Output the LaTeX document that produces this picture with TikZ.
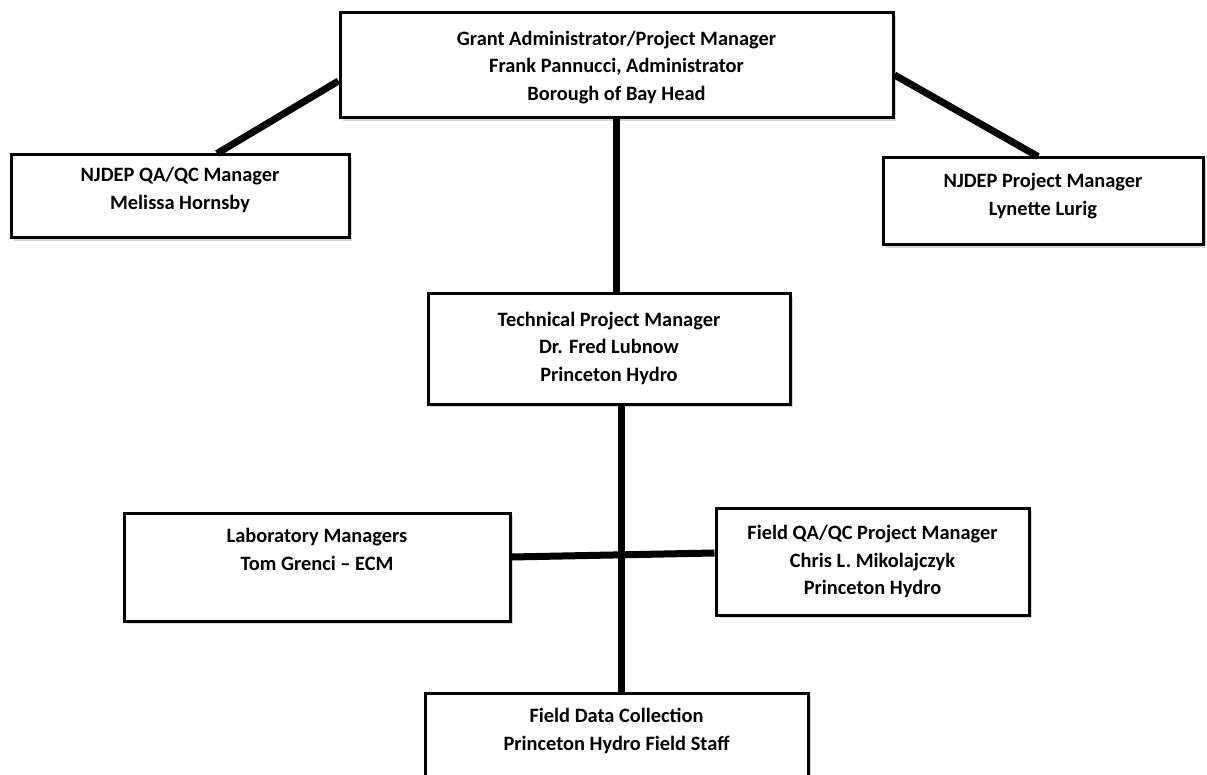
\documentclass[tikz,border=0pt]{standalone}
\usepackage{fontspec}
\setmainfont{Carlito}
\usetikzlibrary{shadows}
\begin{document}
\begin{tikzpicture}[x=1pt, y=-1pt, font=\fontsize{20.4}{27.5}\selectfont\bfseries,
    orgbox/.style={draw, line width=3pt, fill=white, align=center, inner sep=4pt,
      drop shadow={shadow xshift=3pt, shadow yshift=-3pt, fill=black!40, opacity=0.4}},
    lift/.style={text depth=#1},
    link/.style={line width=7pt}]
        % page of 1207 x 775, one unit per pixel of the chart
        \clip (0,0) rectangle (1207,775);
        \fill[white] (0,0) rectangle (1207,775);
        \node[orgbox, minimum width=553, minimum height=105, lift=0pt] (grant) at (616.5,65.5)
          {Grant Administrator/Project Manager\\Frank Pannucci, Administrator\\Borough of Bay Head};
        \node[orgbox, minimum width=338, minimum height=83, lift=16pt] (qaqc) at (180,196.5)
          {NJDEP QA/QC Manager\\Melissa Hornsby};
        \node[orgbox, minimum width=320, minimum height=87, lift=14pt] (njpm) at (1043,201.5)
          {NJDEP Project Manager\\Lynette Lurig};
        \node[orgbox, minimum width=362, minimum height=110, lift=5pt] (tech) at (609,349)
          {Technical Project Manager\\Dr. Fred Lubnow\\Princeton Hydro};
        \node[orgbox, minimum width=386, minimum height=108, lift=35pt] (lab) at (317,567)
          {Laboratory Managers\\Tom Grenci -- ECM};
        \node[orgbox, minimum width=313, minimum height=107, lift=3pt] (fqa) at (872.5,561.5)
          {Field QA/QC Project Manager\\Chris L. Mikolajczyk\\Princeton Hydro};
        \node[orgbox, minimum width=383, minimum height=100, lift=27pt] (fdc) at (616.5,743)
          {Field Data Collection\\Princeton Hydro Field Staff};
        % reporting lines
        \draw[link] ([yshift=-15.5pt]grant.west) -- ([xshift=37pt]qaqc.north);
        \draw[link] ([yshift=-9.5pt]grant.east) -- ([xshift=-5pt]njpm.north);
        \draw[link] (grant.south) -- (grant.south |- tech.north);
        \draw[link] ([xshift=12pt]tech.south) -- ([xshift=12pt]tech.south |- fdc.north);
        \draw[link] ([yshift=10pt]lab.east) -- ([yshift=8.5pt]fqa.west);
\end{tikzpicture}
\end{document}
